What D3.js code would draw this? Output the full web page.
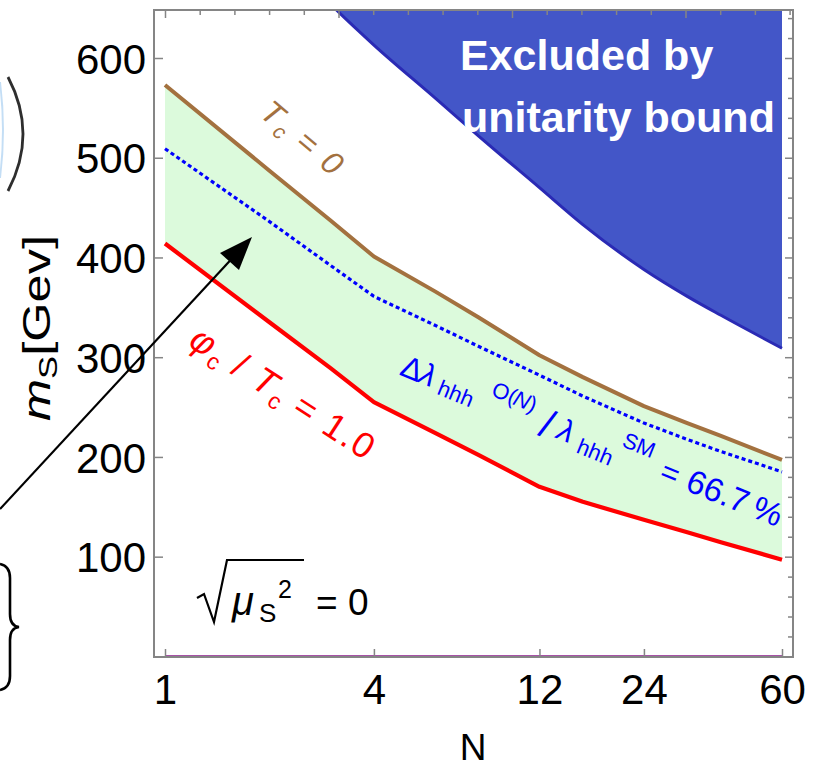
<!DOCTYPE html>
<html><head><meta charset="utf-8">
<script src="https://cdn.jsdelivr.net/npm/d3@7"></script>
<style>
body{margin:0;background:#fff}
svg{display:block}
text{font-family:"Liberation Sans",Arial,Helvetica,sans-serif}
</style>
</head><body>
<svg id="chart" width="814" height="768"></svg>
<script>
// Sampled numbers of scalar species N
const N = [1, 2, 3, 4, 6, 8, 12, 16, 24, 32, 40, 60];
// m_S [GeV] along each contour
const tcZero = [573, 487, 437, 401, 366, 340, 302, 280, 251, 234, 221, 197];          // T_c = 0
const phiOverTc = [414, 335, 289, 255, 224, 202, 170, 155, 137, 124.5, 114.5, 97];    // phi_c / T_c = 1.0
const lambdaRatio = [509, 436, 392, 361, 332, 311, 282, 261, 234, 217.5, 205.5, 185]; // 66.7 % deviation of lambda_hhh
const unitarityBound = [840, 720, 654, 613, 560, 522, 470, 433, 388, 361, 342, 309];  // perturbative unitarity limit
const muZero = [0, 0, 0, 0, 0, 0, 0, 0, 0, 0, 0, 0];                                  // sqrt(mu_S^2) = 0
const xTickValues = [1, 4, 12, 24, 60];
const yTickValues = [100, 200, 300, 400, 500, 600];

const svg = d3.select("#chart");
svg.append("rect").attr("width", 814).attr("height", 768).attr("fill", "#fff");

const frame = {left: 154, right: 793, top: 10, bottom: 657};
const x = d3.scaleLog().domain([1, 60]).range([165, 782]);
const y = d3.scaleLinear().domain([0, 600]).range([656.4, 58]);

const pts = vals => N.map((n, i) => ({n, v: vals[i]}));

svg.append("clipPath").attr("id", "plotClip")
  .append("rect")
  .attr("x", frame.left).attr("y", frame.top)
  .attr("width", frame.right - frame.left).attr("height", frame.bottom - frame.top);

const plot = svg.append("g").attr("clip-path", "url(#plotClip)");

// allowed band between the two transition contours
const band = d3.area()
  .x((d, i) => x(N[i]))
  .y0((d, i) => y(phiOverTc[i]))
  .y1((d, i) => y(tcZero[i]));
plot.append("path").datum(N).attr("d", band).attr("fill", "#dcfadc");

// region excluded by perturbative unitarity (smooth boundary)
const smooth = d3.curveMonotoneX;
const excl = d3.area().curve(smooth)
  .x(d => x(d.n))
  .y0(frame.top)
  .y1(d => y(d.v));
plot.append("path").datum(pts(unitarityBound)).attr("d", excl).attr("fill", "#4356c8");
const smoothLine = d3.line().curve(smooth).x(d => x(d.n)).y(d => y(d.v));
plot.append("path").datum(pts(unitarityBound)).attr("d", smoothLine)
  .attr("fill", "none").attr("stroke", "#2a2ab4").attr("stroke-width", 3);

const line = d3.line().x(d => x(d.n)).y(d => y(d.v));
plot.append("path").datum(pts(muZero)).attr("d", line)
  .attr("fill", "none").attr("stroke", "#8a1a8a").attr("stroke-width", 2.2);

plot.append("path").datum(pts(lambdaRatio)).attr("d", line)
  .attr("fill", "none").attr("stroke", "#0000ff").attr("stroke-width", 3.2)
  .attr("stroke-dasharray", "4,3");

plot.append("path").datum(pts(tcZero)).attr("d", line)
  .attr("fill", "none").attr("stroke", "#a3713f").attr("stroke-width", 4)
  .attr("stroke-linejoin", "round");

plot.append("path").datum(pts(phiOverTc)).attr("d", line)
  .attr("fill", "none").attr("stroke", "#ff0000").attr("stroke-width", 4.2)
  .attr("stroke-linejoin", "round");

// frame and ticks
const gray = "#858585";
svg.append("rect")
  .attr("x", frame.left).attr("y", frame.top)
  .attr("width", frame.right - frame.left).attr("height", frame.bottom - frame.top)
  .attr("fill", "none").attr("stroke", gray).attr("stroke-width", 2);

function styleAxis(g, fontSize) {
  g.select(".domain").remove();
  g.selectAll(".tick line").attr("stroke", gray).attr("stroke-width", 1.5);
  g.selectAll(".tick text").attr("fill", "#000").attr("font-size", fontSize)
    .attr("font-family", "'Liberation Sans',Arial,sans-serif");
}

const leftAxis = svg.append("g").attr("transform", `translate(${frame.left},0)`)
  .call(d3.axisLeft(y).tickValues(yTickValues).tickSize(-9).tickPadding(8));
styleAxis(leftAxis, 42);
leftAxis.selectAll(".tick text").attr("dy", "0.36em");

const bottomAxis = svg.append("g").attr("transform", `translate(0,${frame.bottom})`)
  .call(d3.axisBottom(x).tickValues(xTickValues).tickFormat(d3.format("d")).tickSize(-8).tickPadding(17));
styleAxis(bottomAxis, 42);

// mirrored frame ticks: top in steps of 0.1 decade, right in steps of 20 GeV
const topTicks = d3.range(0, 19).map(k => Math.pow(10, k / 10));
const topAxis = svg.append("g").attr("transform", `translate(0,${frame.top})`)
  .call(d3.axisTop(x).tickValues(topTicks).tickFormat("").tickSize(-5));
styleAxis(topAxis, 0);
topAxis.selectAll(".tick line").attr("y2", (d, i) => (i % 5 === 0 ? 8 : 5));

const rightTicks = d3.range(0, 660, 20);
const rightAxis = svg.append("g").attr("transform", `translate(${frame.right},0)`)
  .call(d3.axisRight(y).tickValues(rightTicks).tickFormat("").tickSize(-5));
styleAxis(rightAxis, 0);
rightAxis.selectAll(".tick line").attr("x2", d => (d % 100 === 0 ? -8 : -5));

// axis titles
svg.append("text").attr("x", 473).attr("y", 760).attr("text-anchor", "middle")
  .attr("font-size", 37).text("N");

const yl = svg.append("text").attr("transform", "translate(50,421) rotate(-90)")
  .attr("font-size", 38).attr("textLength", 186).attr("lengthAdjust", "spacingAndGlyphs");
yl.append("tspan").attr("font-style", "italic").text("m");
yl.append("tspan").attr("font-size", 26).attr("dy", 7).text("S");
yl.append("tspan").attr("dy", -7).text("[Gev]");

// region caption
svg.append("text").attr("x", 460).attr("y", 70).attr("font-size", 43)
  .attr("font-weight", "bold").attr("fill", "#fff").text("Excluded by");
svg.append("text").attr("x", 462).attr("y", 132).attr("font-size", 43)
  .attr("font-weight", "bold").attr("fill", "#fff").text("unitarity bound");

// contour labels
const tcLab = svg.append("text").attr("transform", "translate(295,146) rotate(40)")
  .attr("text-anchor", "middle").attr("font-size", 32).attr("fill", "#a3713f")
  .attr("font-style", "italic").attr("textLength", 96).attr("lengthAdjust", "spacing");
tcLab.append("tspan").text("T");
tcLab.append("tspan").attr("font-size", 21).attr("dy", 6).text("c");
tcLab.append("tspan").attr("dy", -6).text(" = 0");

const phiLab = svg.append("text").attr("transform", "translate(276,403) rotate(33)")
  .attr("text-anchor", "middle").attr("font-size", 36).attr("fill", "#ff0000")
  .attr("textLength", 212).attr("lengthAdjust", "spacing");
phiLab.append("tspan").attr("font-style", "italic").text("φ");
phiLab.append("tspan").attr("font-size", 23).attr("dy", 7).text("c");
phiLab.append("tspan").attr("dy", -7).text(" / ");
phiLab.append("tspan").attr("font-style", "italic").text("T");
phiLab.append("tspan").attr("font-size", 23).attr("dy", 7).text("c");
phiLab.append("tspan").attr("dy", -7).text(" = 1.0");

const lam = svg.append("g").attr("transform", "translate(405,377) rotate(22)")
  .attr("fill", "#0000ff");
const lamParts = [
  {t: "Δ", x: -7, y: 0, s: 31},
  {t: "λ", x: 13, y: 0, s: 31, it: true},
  {t: "hhh", x: 35, y: 4, s: 22},
  {t: "O(", x: 86, y: -15, s: 22},
  {t: "N", x: 109, y: -15, s: 22, it: true},
  {t: ")", x: 125, y: -15, s: 22},
  {t: "/", x: 144, y: 4, s: 40},
  {t: "λ", x: 162, y: 0, s: 31, it: true},
  {t: "hhh", x: 186, y: 6, s: 22},
  {t: "SM", x: 226, y: -17, s: 22},
  {t: "=", x: 273, y: 0, s: 31},
  {t: "66.7", x: 301, y: 0, s: 33},
  {t: "%", x: 372, y: 0, s: 33}
];
lam.selectAll("text").data(lamParts).join("text")
  .attr("x", d => d.x).attr("y", d => d.y).attr("font-size", d => d.s)
  .attr("font-style", d => d.it ? "italic" : null).text(d => d.t);

// sqrt(mu_S^2) = 0 caption
svg.append("path").attr("d", "M197,598 L204,594 L214,622 L227,560 L304,560")
  .attr("fill", "none").attr("stroke", "#000").attr("stroke-width", 2.2);
svg.append("text").attr("x", 232).attr("y", 615).attr("font-size", 40)
  .attr("font-style", "italic").text("μ");
svg.append("text").attr("x", 259).attr("y", 622).attr("font-size", 26).text("S");
svg.append("text").attr("x", 278).attr("y", 598).attr("font-size", 25).text("2");
svg.append("text").attr("x", 316).attr("y", 615).attr("font-size", 37).text("= 0");

// annotation arrow pointing at the dotted contour
svg.append("line").attr("x1", 0).attr("y1", 509).attr("x2", 238).attr("y2", 252)
  .attr("stroke", "#000").attr("stroke-width", 2.2);
svg.append("path").attr("d", "M252,237 L239,270 L220,253 Z").attr("fill", "#000");

// fragments of the neighbouring formula
svg.append("path").attr("d", "M8,77 Q38,134 8,191")
  .attr("fill", "none").attr("stroke", "#2e2e2e").attr("stroke-width", 2.8);
svg.append("path").attr("d", "M0,82 Q6,130 0,178")
  .attr("fill", "none").attr("stroke", "#9cc8ee").attr("stroke-width", 2).attr("opacity", 0.6);
svg.append("path")
  .attr("d", "M0,564 Q10,566 10,578 L10,614 Q10,626 19,627 Q10,628 10,640 L10,676 Q10,688 0,690")
  .attr("fill", "none").attr("stroke", "#000").attr("stroke-width", 2.6);
</script>
</body></html>
